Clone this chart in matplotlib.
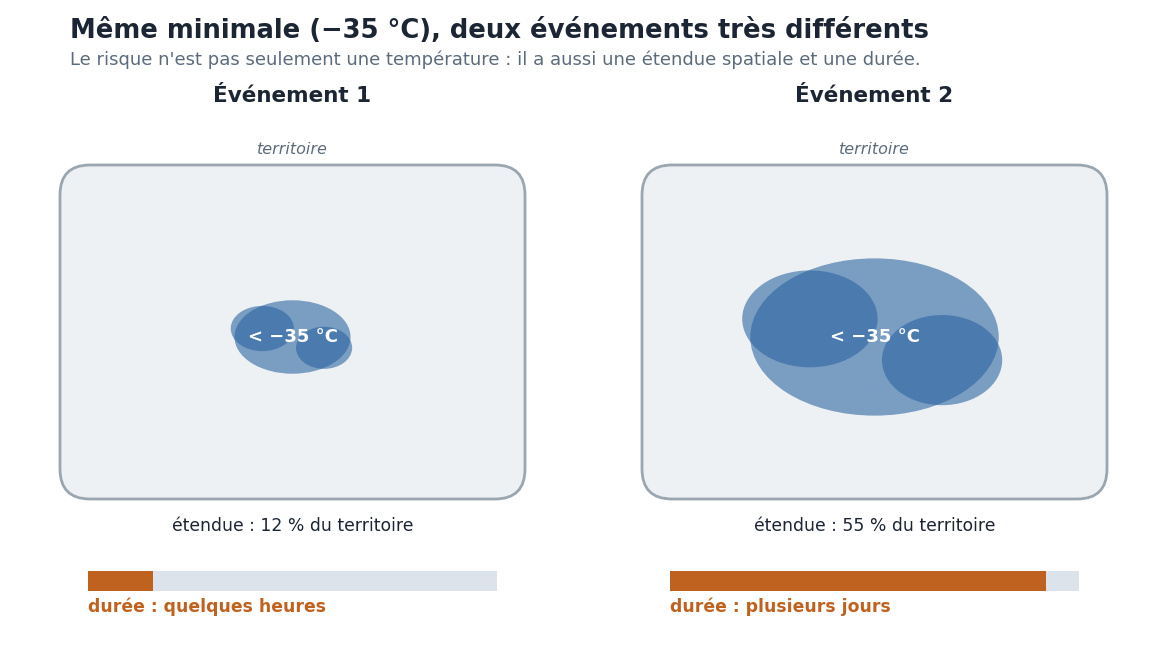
import numpy as np
import matplotlib
matplotlib.use("Agg")
import matplotlib.pyplot as plt
from matplotlib.patches import FancyBboxPatch, Ellipse, Rectangle

# données
evenements = ["Événement 1", "Événement 2"]
etendue_pct = [12, 55]
duree_frac = [0.16, 0.92]
duree_labels = ["durée : quelques heures", "durée : plusieurs jours"]
seuil_label = "< −35 °C"

titre = "Même minimale (−35 °C), deux événements très différents"
sous_titre = "Le risque n'est pas seulement une température : il a aussi une étendue spatiale et une durée."

# couleurs
c_dark = "#1c2533"
c_gray = "#5b6b7c"
c_box = "#eef1f4"
c_box_edge = "#9aa6b0"
c_blob = "#2d65a1"
c_orange = "#c0621f"
c_track = "#dce3ea"

W, H = 1167, 645
fig = plt.figure(figsize=(W / 100, H / 100), dpi=100)
ax = fig.add_axes([0, 0, 1, 1])
ax.set_xlim(0, W)
ax.set_ylim(H, 0)
ax.axis("off")

fig.text(70 / W, 1 - 31 / H, titre, fontsize=18.6, fontweight="bold", color=c_dark, va="center")
fig.text(70 / W, 1 - 60 / H, sous_titre, fontsize=13, color=c_gray, va="center")

centres = [292.5, 874.5]
box_w, box_h = 465, 334
box_top = 165
k = 33.5  # échelle : largeur du blob ~ sqrt(étendue)

for i, cx in enumerate(centres):
    ax.text(cx, 96, evenements[i], fontsize=15.5, fontweight="bold", color=c_dark,
            ha="center", va="center")
    ax.text(cx, 149, "territoire", fontsize=11.5, style="italic", color=c_gray,
            ha="center", va="center")

    box = FancyBboxPatch((cx - box_w / 2, box_top), box_w, box_h,
                         boxstyle="round,pad=0,rounding_size=30",
                         facecolor=c_box, edgecolor=c_box_edge, linewidth=2)
    ax.add_patch(box)

    cy = 337
    bw = k * np.sqrt(etendue_pct[i])
    ax.add_patch(Ellipse((cx, cy), bw, 0.633 * bw, facecolor=c_blob, alpha=0.6, linewidth=0))
    ax.add_patch(Ellipse((cx - 0.26 * bw, cy - 0.073 * bw), 0.545 * bw, 0.39 * bw,
                         facecolor=c_blob, alpha=0.6, linewidth=0))
    ax.add_patch(Ellipse((cx + 0.272 * bw, cy + 0.093 * bw), 0.484 * bw, 0.363 * bw,
                         facecolor=c_blob, alpha=0.6, linewidth=0))
    ax.text(cx, cy, seuil_label, fontsize=13, fontweight="bold", color="white",
            ha="center", va="center")

    ax.text(cx, 526, f"étendue : {etendue_pct[i]} % du territoire", fontsize=12.4,
            color=c_dark, ha="center", va="center")

    bar_x0, bar_w = cx - 204.5, 409
    ax.add_patch(Rectangle((bar_x0, 571), bar_w, 20, facecolor=c_track, linewidth=0))
    ax.add_patch(Rectangle((bar_x0, 571), bar_w * duree_frac[i], 20, facecolor=c_orange,
                           linewidth=0))
    ax.text(bar_x0, 607, duree_labels[i], fontsize=12.4, fontweight="bold", color=c_orange,
            ha="left", va="center")

fig.savefig("out.png", dpi=100)
